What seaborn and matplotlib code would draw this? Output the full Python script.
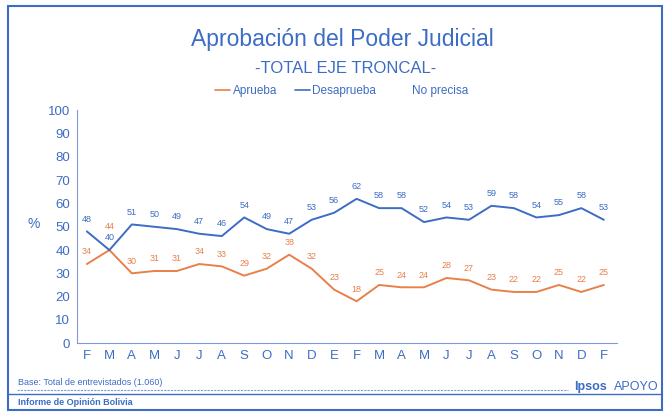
import matplotlib.pyplot as plt
import seaborn as sns
import pandas as pd
from matplotlib.lines import Line2D
from matplotlib.patches import Rectangle

meses = ['F', 'M', 'A', 'M', 'J', 'J', 'A', 'S', 'O', 'N', 'D', 'E',
         'F', 'M', 'A', 'M', 'J', 'J', 'A', 'S', 'O', 'N', 'D', 'F']
aprueba = [34, 40, 30, 31, 31, 34, 33, 29, 32, 38, 32, 23,
           18, 25, 24, 24, 28, 27, 23, 22, 22, 25, 22, 25]
desaprueba = [48, 40, 51, 50, 49, 47, 46, 54, 49, 47, 53, 56,
              62, 58, 58, 52, 54, 53, 59, 58, 54, 55, 58, 53]
etiquetas_aprueba = ['34', '44', '30', '31', '31', '34', '33', '29', '32', '38', '32', '23',
                     '18', '25', '24', '24', '28', '27', '23', '22', '22', '25', '22', '25']

AZUL = '#3d6cc4'
NARANJA = '#e8804a'

sns.set_theme(style='white')
plt.rcParams['font.family'] = ['Liberation Sans', 'DejaVu Sans']

df = pd.DataFrame({
    'x': list(range(len(meses))) * 2,
    'valor': aprueba + desaprueba,
    'serie': ['Aprueba'] * len(meses) + ['Desaprueba'] * len(meses),
})

fig = plt.figure(figsize=(6.64, 4.18), dpi=100)
ax = fig.add_axes([0.116, 0.179, 0.813, 0.557])

sns.lineplot(data=df, x='x', y='valor', hue='serie', palette={'Aprueba': NARANJA, 'Desaprueba': AZUL},
             linewidth=1.4, legend=False, ax=ax)

for i, v in enumerate(desaprueba):
    ax.annotate(str(v), (i, v), textcoords='offset points', xytext=(0, 7), ha='center',
                fontsize=6.5, color=AZUL)
for i, v in enumerate(aprueba):
    # en M las dos series se cruzan: subir la etiqueta naranja
    dy = 15 if i == 1 else 7
    ax.annotate(etiquetas_aprueba[i], (i, v), textcoords='offset points', xytext=(0, dy), ha='center',
                fontsize=6.5, color=NARANJA)

ax.set_xlim(-0.44, 23.58)
ax.set_ylim(0, 100)
ax.set_yticks(range(0, 101, 10))
ax.set_xticks(range(len(meses)))
ax.set_xticklabels(meses)
ax.tick_params(axis='both', colors=AZUL, labelsize=9.5, length=0, pad=5)
ax.set_xlabel('')
ax.set_ylabel('')
for s in ['top', 'right']:
    ax.spines[s].set_visible(False)
for s in ['left', 'bottom']:
    ax.spines[s].set_color('#7f9ad6')
    ax.spines[s].set_linewidth(0.8)
ax.spines['bottom'].set_linestyle((0, (2, 1)))

fig.text(0.05, 0.465, '%', fontsize=10, color=AZUL, ha='center', va='center')

fig.text(0.516, 0.905, 'Aprobación del Poder Judicial', fontsize=16.5, color=AZUL, ha='center', va='center')
fig.text(0.52, 0.835, '-TOTAL EJE TRONCAL-', fontsize=12, color=AZUL, ha='center', va='center')

# leyenda
leyenda = [Line2D([0], [0], color=NARANJA, lw=1.2), Line2D([0], [0], color=AZUL, lw=1.2),
           Line2D([0], [0], color='white', lw=1.2)]
fig.legend(leyenda, ['Aprueba', 'Desaprueba', 'No precisa'], loc='center', bbox_to_anchor=(0.514, 0.782),
           ncol=3, frameon=False, fontsize=8.5, labelcolor=AZUL, handlelength=1.3, handletextpad=0.2,
           columnspacing=1.5)

# marco y pie
fig.patches.append(Rectangle((0.012, 0.02), 0.985, 0.965, transform=fig.transFigure,
                             fill=False, edgecolor=AZUL, lw=1.5))
fig.add_artist(Line2D([0.012, 0.997], [0.057, 0.057], transform=fig.transFigure, color=AZUL, lw=1))
fig.add_artist(Line2D([0.025, 0.855], [0.068, 0.068], transform=fig.transFigure, color='#7f9ad6',
                      lw=0.8, ls=(0, (2, 1))))
fig.text(0.027, 0.085, 'Base: Total de entrevistados (1.060)', fontsize=6.5, color=AZUL, va='center')
fig.text(0.027, 0.036, 'Informe de Opinión Bolivia', fontsize=6.5, color=AZUL, va='center',
         fontweight='bold')
fig.text(0.865, 0.073, 'Ipsos', fontsize=9, color=AZUL, va='center', fontweight='bold')
fig.text(0.925, 0.073, 'APOYO', fontsize=9, color=AZUL, va='center')

fig.savefig('out.png', dpi=100)
plt.close()
